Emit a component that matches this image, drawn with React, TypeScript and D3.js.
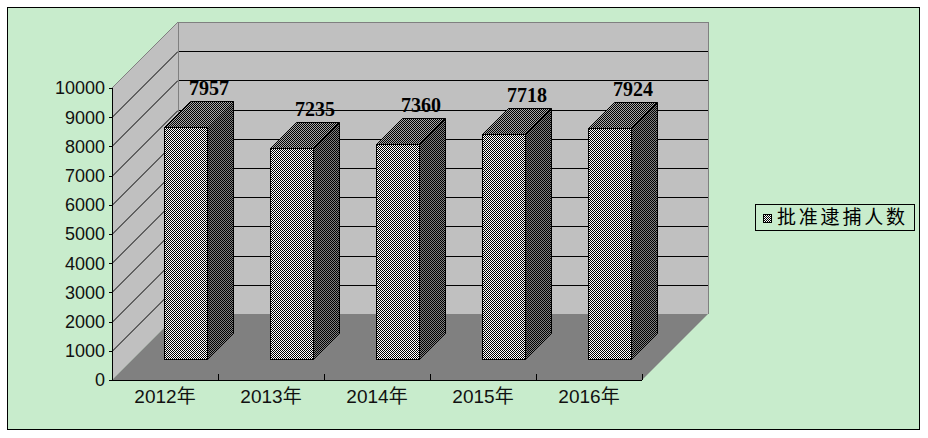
import React from "react";
import * as d3 from "d3";

const categories = ["2012年", "2013年", "2014年", "2015年", "2016年"];
const values = [7957, 7235, 7360, 7718, 7924];
const yTicks = [0, 1000, 2000, 3000, 4000, 5000, 6000, 7000, 8000, 9000, 10000];
const seriesName = "批准逮捕人数";

const W = 928;
const H = 438;
const BG = "#C8ECCC";

export default function App() {
  const x0 = 112, x1 = 642;
  const y = d3.scaleLinear().domain([0, 10000]).range([380, 88]);
  const x = d3
    .scaleBand<string>()
    .domain(categories)
    .range([x0, x1])
    .paddingInner(0.594)
    .paddingOuter(0.297);
  const depth = 66; // wall depth offset
  const barFront = 21; // bar front depth
  const barDepth = 26;
  const bw = x.bandwidth();
  const P = (px: number, py: number, d: number) => [px + d, py - d];
  const pts = (arr: number[][]) => arr.map((p) => p.join(",")).join(" ");

  const yTop = y(10000), y0 = y(0);
  const leftWall = [P(x0, yTop, 0), P(x0, yTop, depth), P(x0, y0, depth), P(x0, y0, 0)];
  const floor = [P(x0, y0, 0), P(x1, y0, 0), P(x1, y0, depth), P(x0, y0, depth)];
  const [bwx0, bwy0] = P(x0, yTop, depth);
  const [bwx1, bwy1] = P(x1, y0, depth);

  const step = x.step();
  const boundaries = d3.range(categories.length + 1).map((i) => x0 + i * step);

  return (
    <svg
      width={W}
      height={H}
      style={{ position: "absolute", left: 0, top: 0, display: "block" }}
      fontFamily="'Liberation Sans', 'Noto Sans CJK SC', sans-serif"
    >
      <defs>
        <pattern id="checkW" width={2} height={2} patternUnits="userSpaceOnUse">
          <rect width={2} height={2} fill="#ffffff" shapeRendering="crispEdges" />
          <rect width={1} height={1} fill="#000" shapeRendering="crispEdges" />
          <rect x={1} y={1} width={1} height={1} fill="#000" shapeRendering="crispEdges" />
        </pattern>
        <pattern id="checkG" width={2} height={2} patternUnits="userSpaceOnUse">
          <rect width={2} height={2} fill="#808080" shapeRendering="crispEdges" />
          <rect width={1} height={1} fill="#000" shapeRendering="crispEdges" />
          <rect x={1} y={1} width={1} height={1} fill="#000" shapeRendering="crispEdges" />
        </pattern>
        <pattern id="checkT" width={2} height={2} patternUnits="userSpaceOnUse">
          <rect width={2} height={2} fill="#a8a8a8" shapeRendering="crispEdges" />
          <rect width={1} height={1} fill="#000" shapeRendering="crispEdges" />
          <rect x={1} y={1} width={1} height={1} fill="#000" shapeRendering="crispEdges" />
        </pattern>
      </defs>
      <rect x={0} y={0} width={W} height={H} fill="#fff" />
      <rect x={7.5} y={7.5} width={912} height={422} fill={BG} stroke="#000" strokeWidth={1} />

      {/* walls */}
      <polygon points={pts(leftWall)} fill="#C0C0C0" />
      <rect x={bwx0} y={bwy0} width={bwx1 - bwx0} height={bwy1 - bwy0} fill="#C0C0C0" />
      <polygon points={pts(floor)} fill="#808080" />

      {/* gridlines */}
      {yTicks.filter((t) => t > 0 && t < 10000).map((t) => {
        const yy = Math.round(y(t)) + 0.5;
        return (
          <g key={t}>
            <line x1={x0} y1={yy} x2={x0 + depth} y2={yy - depth} stroke="#000" strokeWidth={1} />
            <line x1={bwx0} y1={yy - depth} x2={bwx1} y2={yy - depth} stroke="#000" strokeWidth={1} shapeRendering="crispEdges" />
          </g>
        );
      })}
      {/* wall borders */}
      <line x1={x0} y1={yTop} x2={bwx0} y2={bwy0} stroke="#808080" strokeWidth={1} />
      <line x1={bwx0} y1={bwy0 + 0.5} x2={bwx1} y2={bwy0 + 0.5} stroke="#808080" strokeWidth={1} shapeRendering="crispEdges" />
      <line x1={bwx0 + 0.5} y1={bwy0} x2={bwx0 + 0.5} y2={bwy1} stroke="#808080" strokeWidth={1} shapeRendering="crispEdges" />
      <line x1={bwx1 + 0.5} y1={bwy0} x2={bwx1 + 0.5} y2={bwy1} stroke="#808080" strokeWidth={1} shapeRendering="crispEdges" />

      {/* axes */}
      <line x1={x0 + 0.5} y1={yTop} x2={x0 + 0.5} y2={y0} stroke="#000" shapeRendering="crispEdges" />
      <line x1={x0} y1={y0 + 0.5} x2={x1} y2={y0 + 0.5} stroke="#000" shapeRendering="crispEdges" />
      {yTicks.map((t) => (
        <g key={t}>
          <line x1={x0 - 3} y1={Math.round(y(t)) + 0.5} x2={x0} y2={Math.round(y(t)) + 0.5} stroke="#000" shapeRendering="crispEdges" />
          <text x={105} y={y(t)} dy="0.36em" textAnchor="end" fontSize={18} fill="#111">
            {t}
          </text>
        </g>
      ))}
      {boundaries.slice(1).map((bx, i) => (
        <line key={i} x1={Math.round(bx) + 0.5} y1={y0} x2={Math.round(bx) + 0.5} y2={y0 - 6} stroke="#000" shapeRendering="crispEdges" />
      ))}
      {categories.map((c) => (
        <text key={c} x={(x(c) as number) + bw / 2} y={403} textAnchor="middle" fontSize={19} fill="#111">
          {c}
        </text>
      ))}

      {/* bars */}
      {categories.map((c, i) => {
        const v = values[i];
        const fx = Math.round((x(c) as number) + barFront) + 0.5;
        const fb = Math.round(y(0) - barFront) + 0.5;
        const ft = Math.round(y(v) - barFront) + 0.5;
        const fw = Math.round(bw);
        const side = [[fx + fw, ft], [fx + fw + barDepth, ft - barDepth], [fx + fw + barDepth, fb - barDepth], [fx + fw, fb]];
        const top = [[fx, ft], [fx + barDepth, ft - barDepth], [fx + fw + barDepth, ft - barDepth], [fx + fw, ft]];
        return (
          <g key={c}>
            <polygon points={pts(side)} fill="url(#checkG)" stroke="#000" strokeWidth={1} />
            <polygon points={pts(top)} fill="url(#checkT)" stroke="#000" strokeWidth={1} />
            <rect x={fx} y={ft} width={fw} height={fb - ft} fill="url(#checkW)" stroke="#000" strokeWidth={1} />
            <text
              x={fx + barDepth + fw / 2 - 3}
              y={ft - barDepth - 7}
              textAnchor="middle"
              fontSize={20}
              fontWeight="bold"
              fontFamily="'Liberation Serif', serif"
              fill="#000"
            >
              {v}
            </text>
          </g>
        );
      })}

      {/* legend */}
      <rect x={755.5} y={204.5} width={159} height={26} fill={BG} stroke="#000" strokeWidth={1} />
      <rect x={763.5} y={214.5} width={8} height={8} fill="url(#checkW)" stroke="#000" strokeWidth={1} />
      <text x={777} y={224} fontSize={19} letterSpacing={2.8} fontFamily="'Noto Sans CJK SC', sans-serif" fill="#000">
        {seriesName}
      </text>
    </svg>
  );
}
